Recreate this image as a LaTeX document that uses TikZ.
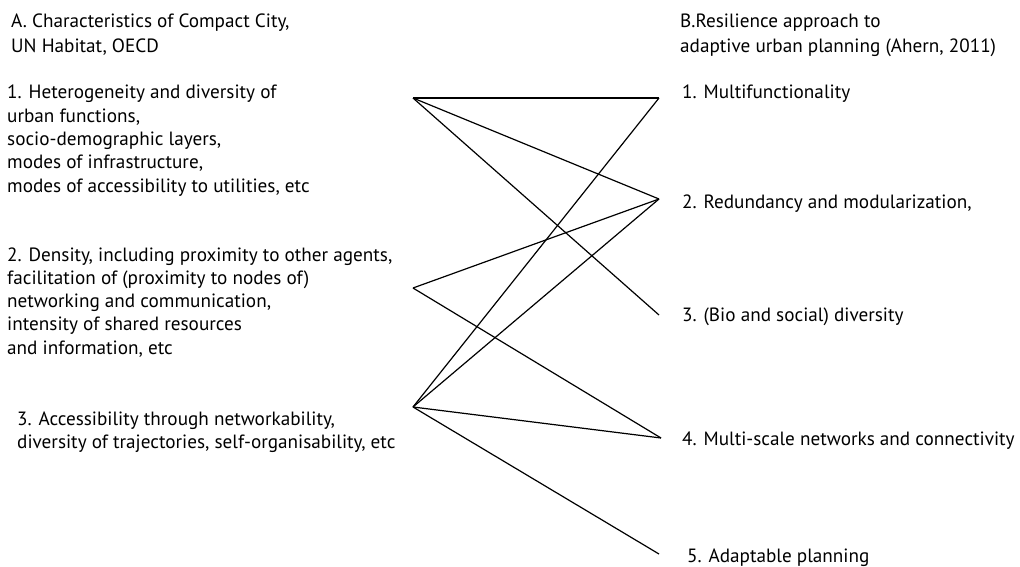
\documentclass[tikz,border=0pt]{standalone}
\usepackage{fontspec}
\setmainfont{PT Sans}
\begin{document}
\begin{tikzpicture}[x=1pt,y=-1pt,
  lbl/.style={anchor=base west,inner sep=0pt,align=left,font=\fontsize{19.2}{23.3}\selectfont},
  hdr/.style={anchor=base west,inner sep=0pt,align=left,font=\fontsize{19.2}{25}\selectfont},
  link/.style={line width=1.2pt,line join=round}]
\useasboundingbox (0,0) rectangle (1020,567);
% headers (anchored at the baseline of the last line)
\node[hdr] (ha) at (11,53) {A. Characteristics of Compact City,\\UN Habitat, OECD};
\node[hdr] (hb) at (680,53) {B.Resilience approach to\\adaptive urban planning (Ahern, 2011)};
% left items
\node[lbl] (a1) at (7,192.2) {1. Heterogeneity and diversity of\\urban functions,\\socio-demographic layers,\\modes of infrastructure,\\modes of accessibility to utilities, etc};
\node[lbl] (a2) at (7,354.2) {2. Density, including proximity to other agents,\\facilitation of (proximity to nodes of)\\networking and communication,\\intensity of shared resources\\and information, etc};
\node[lbl] (a3) at (17,448.3) {3. Accessibility through networkability,\\diversity of trajectories, self-organisability, etc};
% right items
\node[lbl] (b1) at (682,99) {1. Multifunctionality};
\node[lbl] (b2) at (682,208) {2. Redundancy and modularization,};
\node[lbl] (b3) at (682,321) {3. (Bio and social) diversity};
\node[lbl] (b4) at (682,445) {4. Multi-scale networks and connectivity};
\node[lbl] (b5) at (687,562) {5. Adaptable planning};
% connector ends
\coordinate (L1) at (413,98);
\coordinate (L2) at (413,288);
\coordinate (L3) at (413,407);
\coordinate (R1) at (659,98);
\coordinate (R2) at (659,199);
\coordinate (R3) at (659,315);
\coordinate (R4) at (661,438);
\coordinate (R5) at (659,554);
% connectors
\draw[link] (L1) -- (R1);
\draw[link] (L1) -- (R2);
\draw[link] (L1) -- (R3);
\draw[link] (L2) -- (R2);
\draw[link] (L2) -- (R4);
\draw[link] (L3) -- (R1);
\draw[link] (L3) -- (R2);
\draw[link] (L3) -- (R4);
\draw[link] (L3) -- (R5);
\end{tikzpicture}
\end{document}
